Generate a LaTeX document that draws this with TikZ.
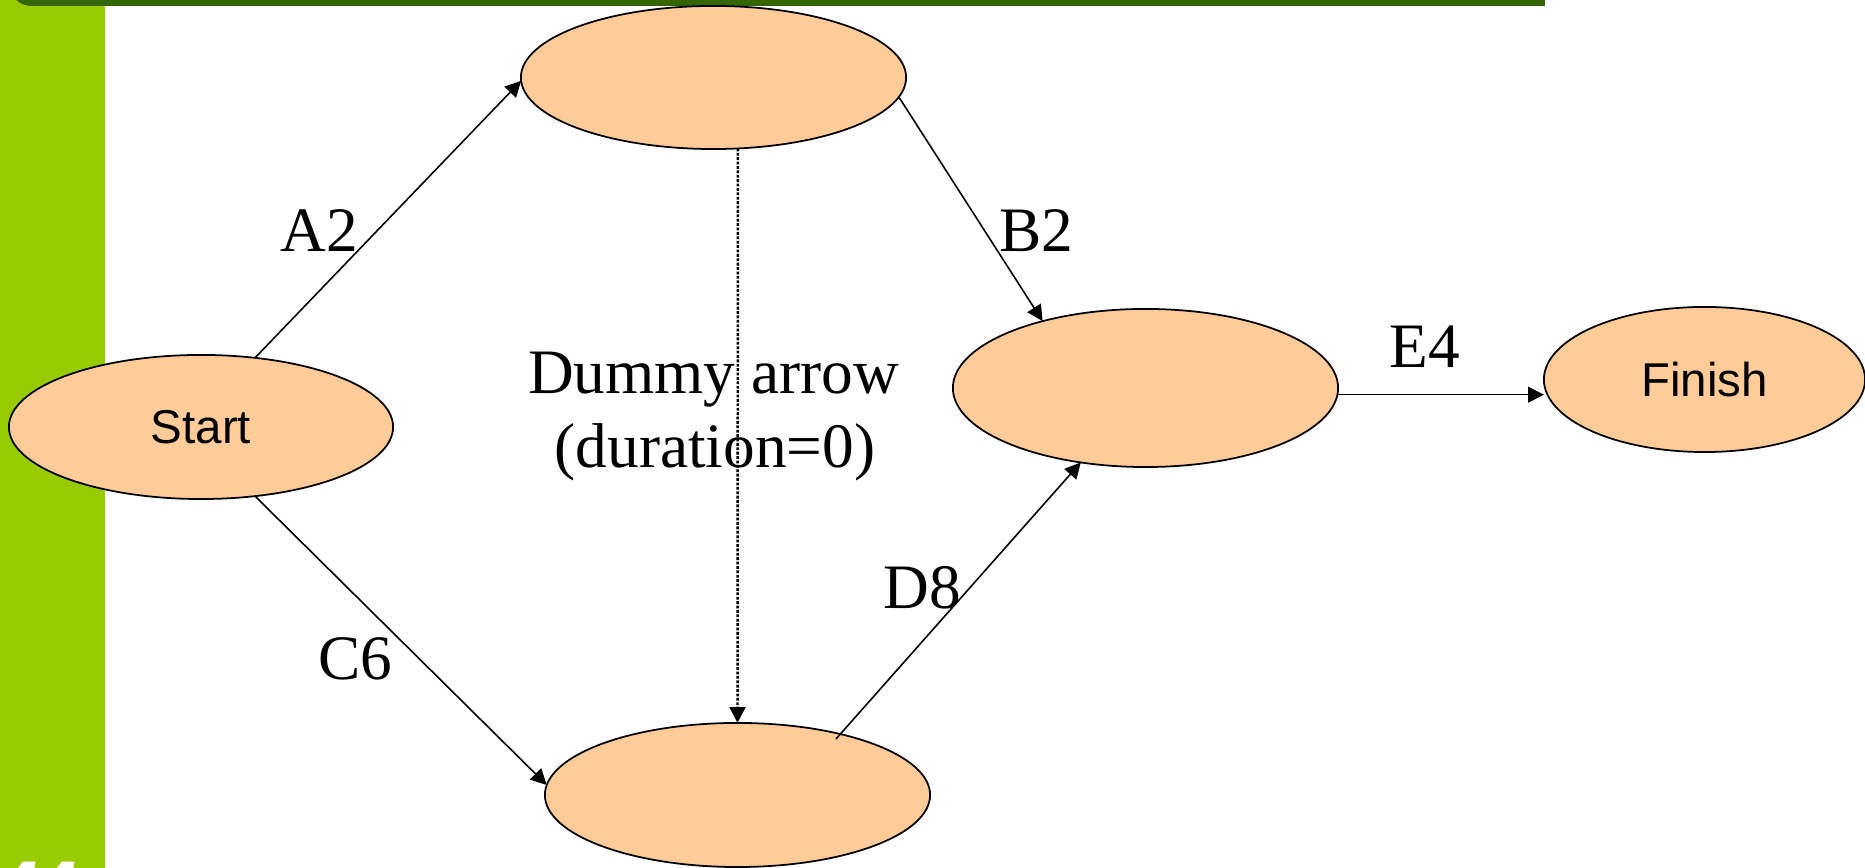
\documentclass[tikz,border=0pt]{standalone}
\usepackage{fontspec}
\setmainfont{Liberation Serif}
\setsansfont{Liberation Sans}
\usetikzlibrary{arrows.meta,shapes.geometric}
\definecolor{peach}{HTML}{FFCC99}
\definecolor{barlime}{HTML}{99CC00}
\definecolor{bardark}{HTML}{336600}

\begin{document}
\begin{tikzpicture}[x=0.01cm,y=-0.01cm,
  event/.style={ellipse,draw=black,line width=0.5pt,fill=peach,inner sep=0pt,outer sep=0pt,
    font=\sffamily\fontsize{13.5}{16}\selectfont},
  act/.style={-{Triangle[length=4.5pt,width=4.5pt]},line width=0.45pt},
  dummyarr/.style={act,line width=0.7pt,dash pattern=on 0.8pt off 0.45pt},
  lbl/.style={anchor=base,inner sep=0pt,font=\fontsize{18}{21}\selectfont}]
\useasboundingbox (0,0) rectangle (1865,868);
\clip (0,0) rectangle (1865,868);

% slide decoration: side bar and top rule (rounded at its left end only)
\fill[barlime] (0,0) rectangle (105,868);
\fill[bardark, rounded corners=6pt] (10,-60) rectangle (120,6);
\fill[bardark] (60,-60) rectangle (1545,6);
\node[anchor=north west,inner sep=0pt,text=white,
  font=\sffamily\bfseries\itshape\fontsize{20}{24}\selectfont] (pageno) at (-2,861) {44};

% events
\node[event,minimum width=3.84cm,minimum height=1.44cm] (start) at (201,427) {Start};
\node[event,minimum width=3.85cm,minimum height=1.43cm] (top)   at (713.5,77.5) {};
\node[event,minimum width=3.85cm,minimum height=1.58cm] (mid)   at (1145.5,388) {};
\node[event,minimum width=3.85cm,minimum height=1.44cm] (bot)   at (737.5,795) {};
\node[event,minimum width=3.21cm,minimum height=1.45cm] (fin)   at (1704.5,379.5) {Finish};

% D8 leaves from just inside the lower event
\coordinate (dstart) at ([shift={(98.5,-56)}]bot.center);

% activities
\draw[act] (start.52) -- (top.181);
\draw[act] (start.-52) -- (bot.177.6);
\draw[act] (top.-6.3) -- (mid.147.9);
\draw[act] (dstart) -- (mid.229.4);
\draw[act] (mid.-2) -- (mid.-2 -| fin.west);
\draw[dummyarr] (top.-71.5) -- (bot.north);

% activity labels
\node[lbl] (la) at (319.5,252) {A2};
\node[lbl] (lb) at (1036,252) {B2};
\node[lbl] (lc) at (355.7,680) {C6};
\node[lbl] (ld) at (922,609) {D8};
\node[lbl] (le) at (1424.5,367.5) {E4};
\node[lbl] (ldum1) at (713.5,393.7) {Dummy arrow};
\node[lbl] (ldum2) at (715,467.4) {(duration=0)};
\end{tikzpicture}
\end{document}
